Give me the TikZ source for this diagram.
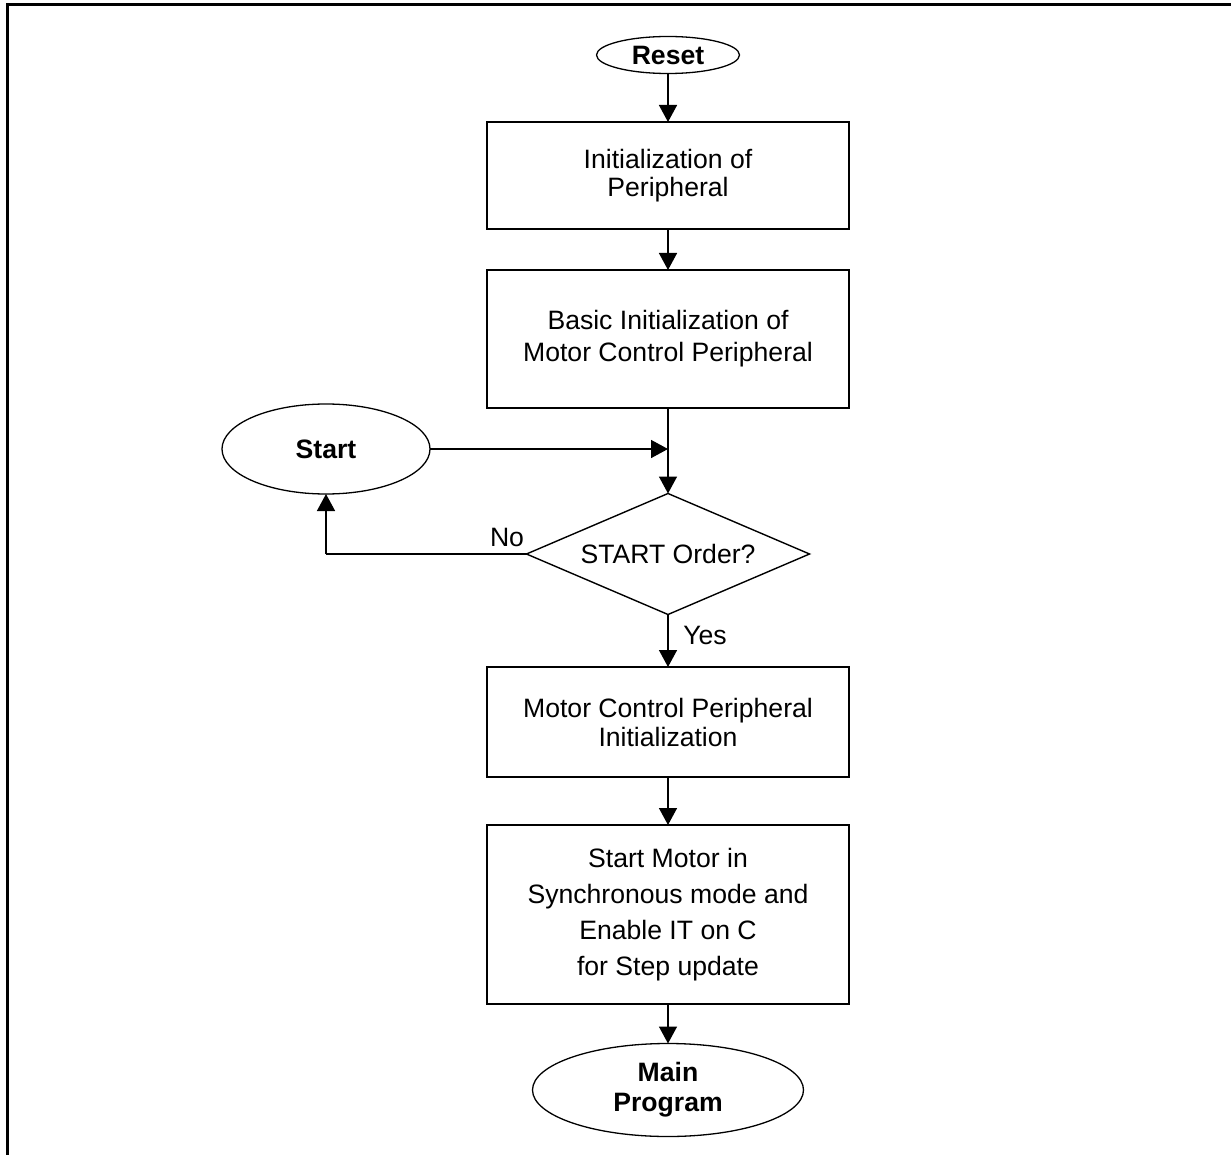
\documentclass[tikz,border=0pt]{standalone}
\usepackage{fontspec}
\setmainfont{Liberation Sans}
\usetikzlibrary{shapes.geometric,arrows.meta}

\begin{document}
\begin{tikzpicture}[x=1pt,y=-1pt,
  every node/.style={inner sep=0pt,outer sep=0pt,font=\fontsize{26.6}{30}\selectfont},
  procbox/.style={draw,line width=1.6pt,rectangle,minimum width=362pt,align=center},
  term/.style={draw,line width=1.3pt,ellipse,align=center,font=\fontsize{26.6}{30}\selectfont\bfseries},
  decision/.style={draw,line width=1.4pt,diamond,aspect=2.34,minimum width=283pt,minimum height=121pt},
  flow/.style={line width=1.5pt,-{Triangle[length=17pt,width=18pt]}},
  plain/.style={line width=1.5pt}]

  \useasboundingbox (0,0) rectangle (1231,1155);

  % page frame (top and left rules)
  \draw[line width=3pt] (1231,5) -- (7,5) -- (7,1155);

  % terminals
  \node[term,minimum width=143pt,minimum height=37pt] (reset) at (668,55) {Reset};
  \node[term,minimum width=208pt,minimum height=90pt] (start) at (326,449) {Start};
  \node[term,minimum width=271pt,minimum height=93pt,
        font=\fontsize{26.6}{30}\selectfont\bfseries] (main) at (668,1090) {Main\\Program};

  % processing steps
  \node[procbox,minimum height=107pt,font=\fontsize{26.6}{28}\selectfont]
    (init) at (668,175.5) {Initialization of\\Peripheral};
  \node[procbox,minimum height=138pt,font=\fontsize{26.6}{32}\selectfont]
    (basic) at (668,339) {Basic Initialization of\\Motor Control Peripheral};
  \node[decision] (order) at (668,554) {START Order?};
  \node[procbox,minimum height=110pt,font=\fontsize{26.6}{29}\selectfont]
    (mcinit) at (668,722) {Motor Control Peripheral\\Initialization};
  \node[procbox,minimum height=179pt,font=\fontsize{26.6}{36}\selectfont]
    (run) at (668,914.5) {Start Motor in\\Synchronous mode and\\Enable IT on C\\for Step update};

  % connectors
  \draw[flow] (reset.south) -- (init.north);
  \draw[flow] (init.south) -- (basic.north);
  \draw[flow] (basic.south) -- (basic.south |- order.north);
  \coordinate (join) at (start.east -| basic.south);
  \draw[flow] (start.east) -- (join);
  \coordinate (back) at (start.south |- order.west);
  \draw[plain] (order.west) -- (back);
  \draw[flow] (back) -- (start.south);
  \draw[flow] (order.south) -- (mcinit.north);
  \draw[flow] (mcinit.south) -- (run.north);
  \draw[flow] (run.south) -- (main.north);

  % branch labels
  \node (nolbl) at (507,537) {No};
  \node (yeslbl) at (705,635) {Yes};
\end{tikzpicture}
\end{document}
